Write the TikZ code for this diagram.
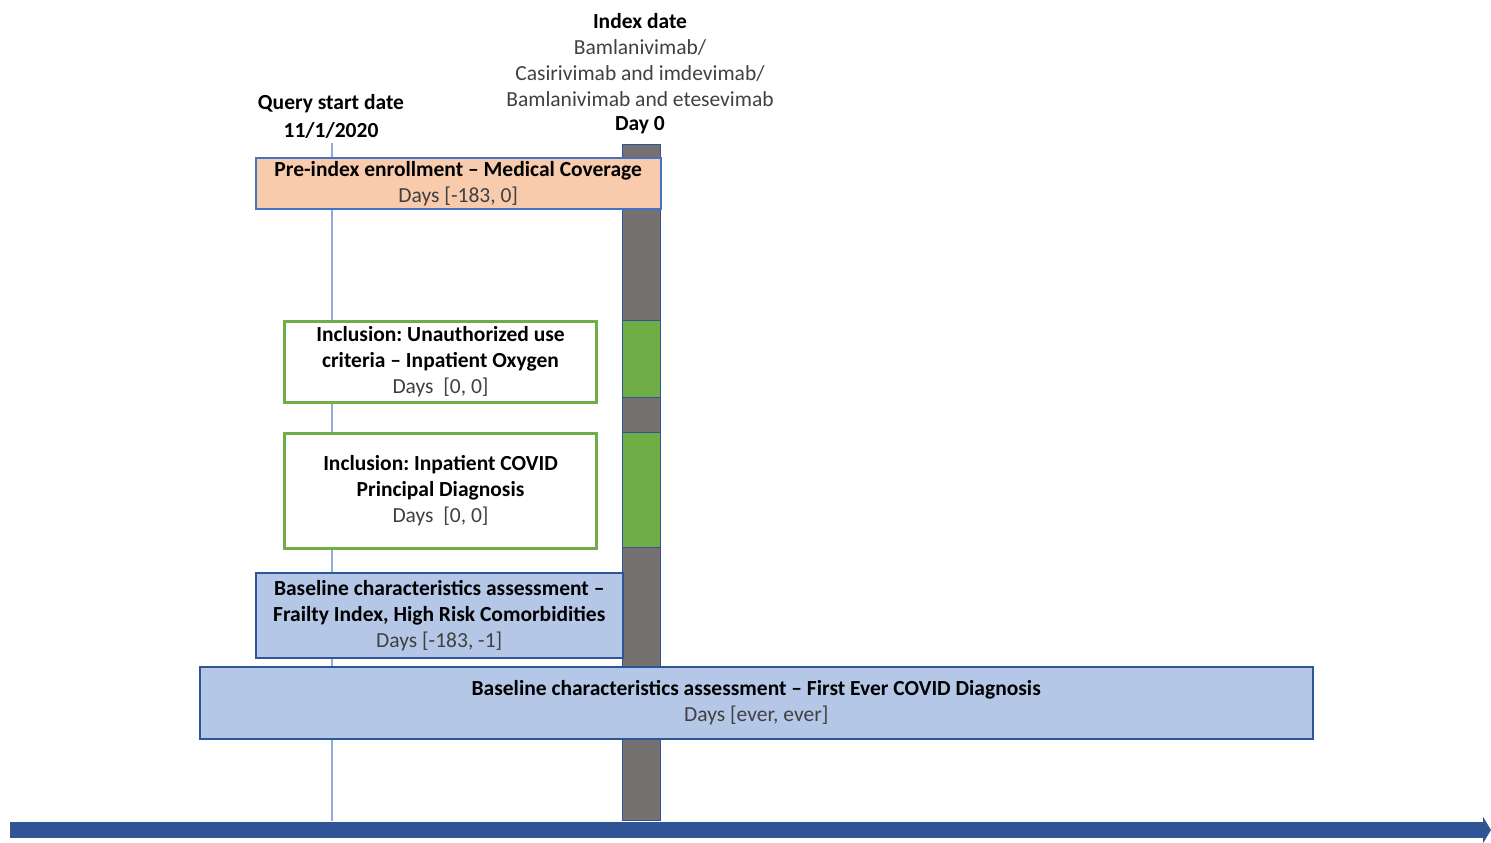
\documentclass[tikz,border=0pt]{standalone}
\usepackage{fontspec}
\setmainfont{Carlito}
\frenchspacing
\usetikzlibrary{arrows.meta}
\definecolor{axisblue}{RGB}{47,85,151}
\definecolor{edgeblue}{RGB}{68,114,196}
\definecolor{barGray}{RGB}{118,113,113}
\definecolor{incGreen}{RGB}{112,173,71}
\definecolor{peach}{RGB}{248,203,173}
\definecolor{paleBlue}{RGB}{180,199,231}
\definecolor{thinBlue}{RGB}{143,170,220}
\definecolor{daysGray}{RGB}{64,64,64}
\tikzset{
  txt/.style={font=\fontsize{21.5}{26}\selectfont, align=center, inner sep=0pt},
  boxbase/.style={anchor=north west, font=\fontsize{21.5}{26}\selectfont, align=center, inner sep=0pt},
  peachbox/.style={boxbase, draw=edgeblue, fill=peach, line width=1.5pt},
  greenbox/.style={boxbase, draw=incGreen, fill=white, line width=3pt},
  bluebox/.style={boxbase, draw=axisblue, fill=paleBlue, line width=1.5pt},
  daytxt/.style={text=daysGray}
}
\begin{document}
\begin{tikzpicture}[x=1pt,y=-1pt]
\useasboundingbox (0,0) rectangle (1491,843);
% thin query line
\coordinate (qtop) at (332,143);
\coordinate (qbot) at (332,821);
\draw[thinBlue, line width=1.2pt] (qtop) -- (qbot);
% gray index bar
\node[anchor=north west, draw=axisblue, fill=barGray, line width=1pt, minimum width=38pt, minimum height=676pt, inner sep=0pt] (bar) at (622,144) {};
\node[anchor=north west, draw=axisblue, fill=incGreen, line width=1pt, minimum width=38pt, minimum height=77pt, inner sep=0pt] (g1) at (622,320) {};
\node[anchor=north west, draw=axisblue, fill=incGreen, line width=1pt, minimum width=38pt, minimum height=115pt, inner sep=0pt] (g2) at (622,432) {};
% labels on top
\node[txt] (idx) at (640,21) {\textbf{Index date}};
\node[txt, daytxt] (drug1) at (640,47) {Bamlanivimab/};
\node[txt, daytxt] (drug2) at (640,73) {Casirivimab and imdevimab/};
\node[txt, daytxt] (drug3) at (640,99) {Bamlanivimab and etesevimab};
\node[txt] (day0) at (640,125) {\textbf{Day 0}};
\node[txt] (qsd) at (331,104) {\textbf{Query start date}};
\node[txt] (qdate) at (331,130) {\textbf{11/1/2020}};
% boxes
\node[peachbox, minimum width=405pt, minimum height=51pt] (pre) at (255,157)
  {\textbf{Pre-index enrollment -- Medical Coverage}\\ \textcolor{daysGray}{Days [-183, 0]}};
\node[greenbox, minimum width=312pt, minimum height=81pt] (inc1) at (283,320)
  {\textbf{Inclusion: Unauthorized use}\\ \textbf{criteria -- Inpatient Oxygen}\\ \textcolor{daysGray}{Days~ [0, 0]}};
\node[greenbox, minimum width=312pt, minimum height=115pt] (inc2) at (283,432)
  {\textbf{Inclusion: Inpatient COVID}\\ \textbf{Principal Diagnosis}\\ \textcolor{daysGray}{Days~ [0, 0]}};
\node[bluebox, minimum width=367pt, minimum height=85pt] (base1) at (255,572)
  {\textbf{Baseline characteristics assessment --}\\ \textbf{Frailty Index, High Risk Comorbidities}\\ \textcolor{daysGray}{Days [-183, -1]}};
\node[bluebox, minimum width=1113pt, minimum height=72pt] (base2) at (199,666)
  {\textbf{Baseline characteristics assessment -- First Ever COVID Diagnosis}\\ \textcolor{daysGray}{Days [ever, ever]}};
% time axis
\coordinate (axL) at (10,830);
\coordinate (axR) at (1491,830);
\draw[axisblue, line width=16pt, -{Triangle[length=8pt, width=26pt]}] (axL) -- (axR);
\end{tikzpicture}
\end{document}
